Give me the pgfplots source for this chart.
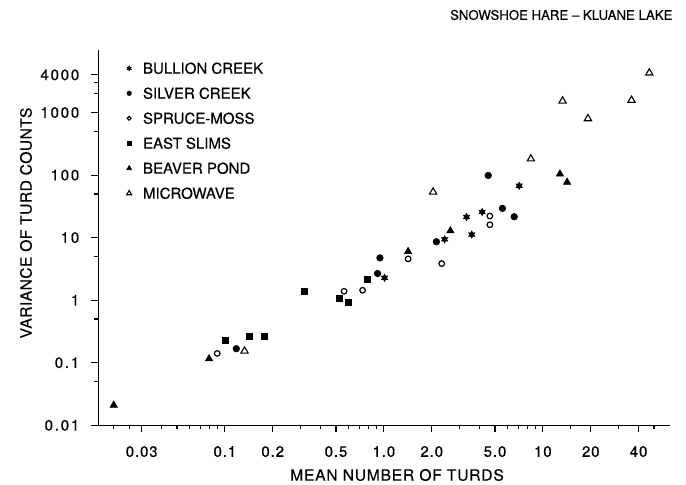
\documentclass[border=0pt]{standalone}
\usepackage{fontspec}
\setmainfont{TeX Gyre Heros}[FakeBold=0.4]
\usepackage{pgfplots}
\pgfplotsset{compat=1.18}
\usetikzlibrary{plotmarks}

\pgfdeclareplotmark{hexstar}{%
  \pgfpathmoveto{\pgfpointpolar{90}{\pgfplotmarksize}}%
  \pgfpathlineto{\pgfpointpolar{120}{0.55\pgfplotmarksize}}%
  \pgfpathlineto{\pgfpointpolar{150}{\pgfplotmarksize}}%
  \pgfpathlineto{\pgfpointpolar{180}{0.55\pgfplotmarksize}}%
  \pgfpathlineto{\pgfpointpolar{210}{\pgfplotmarksize}}%
  \pgfpathlineto{\pgfpointpolar{240}{0.55\pgfplotmarksize}}%
  \pgfpathlineto{\pgfpointpolar{270}{\pgfplotmarksize}}%
  \pgfpathlineto{\pgfpointpolar{300}{0.55\pgfplotmarksize}}%
  \pgfpathlineto{\pgfpointpolar{330}{\pgfplotmarksize}}%
  \pgfpathlineto{\pgfpointpolar{0}{0.55\pgfplotmarksize}}%
  \pgfpathlineto{\pgfpointpolar{30}{\pgfplotmarksize}}%
  \pgfpathlineto{\pgfpointpolar{60}{0.55\pgfplotmarksize}}%
  \pgfpathclose\pgfusepathqfillstroke}

\newcommand{\lblfont}{\fontsize{7.5}{9}\selectfont}
\newcommand{\xtfont}{\fontsize{7.5}{9}\selectfont\addfontfeatures{LetterSpace=6}}
\newcommand{\ytfont}{\fontsize{7.5}{9}\selectfont\addfontfeatures{LetterSpace=12}}
\newcommand{\xlfont}{\fontsize{7.8}{9}\selectfont\addfontfeatures{LetterSpace=5}}
\newcommand{\ylfont}{\fontsize{7.8}{9}\selectfont\addfontfeatures{LetterSpace=3}}
\newcommand{\ttlfont}{\fontsize{6.6}{8}\selectfont}

\begin{document}
\begin{tikzpicture}
\path[use as bounding box] (-49.15pt,-29.35pt) rectangle (293.85pt,212.65pt);
\begin{axis}[
  at={(0,0)}, anchor=south west,
  scale only axis, width=285.85pt, height=187.65pt,
  xmode=log, ymode=log,
  xmin=0.016, xmax=63, ymin=0.01, ymax=10000,
  axis lines*=left,
  axis line style={line width=0.6pt},
  tick align=outside,
  major tick length=3.5pt, minor tick length=2pt,
  every tick/.style={black, line width=0.6pt},
  xtick={0.03,0.1,0.2,0.5,1,2,5,10,20,40},
  xticklabels={0.03,0.1,0.2,0.5,1.0,2.0,5.0,10,20,40},
  minor xtick={0.02,0.025,0.04,0.05,0.06,0.07,0.08,0.09,0.3,0.4,0.6,0.7,0.8,0.9,3,4,6,7,8,9,15,30,50},
  ytick={0.01,0.1,1,10,100,1000,4000},
  yticklabels={0.01,0.1,1,10,100,1000,4000},
  minor ytick={0.05,0.5,5,50,500,2000,3000},
  /pgf/number format/assume math mode=true,
  xticklabel style={font=\xtfont, yshift=-3.4pt},
  yticklabel style={font=\ytfont, xshift=-2.5pt},
  xlabel={MEAN NUMBER OF TURDS},
  xlabel style={at={(axis description cs:0.5225,-0.1324)}, anchor=center, font=\xlfont},
  ylabel={VARIANCE OF TURD COUNTS},
  ylabel style={at={(axis description cs:-0.1265,0.539)}, anchor=center, font=\ylfont},
  every axis title shift=0pt,
  title={SNOWSHOE HARE -- KLUANE LAKE},
  title style={at={(axis description cs:1.005,1.0933)}, anchor=east, font=\ttlfont, inner sep=0pt},
  legend image code/.code={\draw[#1,/tikz/every mark/.append style={scale=0.68}] plot coordinates {(0pt,0pt)};},
  legend style={at={(axis description cs:0.0497,0.9656)}, anchor=north west,
    draw=none, fill=none, inner sep=0pt, outer sep=0pt, font=\lblfont,
    row sep=7.1pt,
    nodes={inner sep=0pt, text height=5.4pt, text depth=0pt},
    /tikz/every odd column/.append style={column sep=5.7pt}},
  legend cell align=left,
]
\addplot[only marks, black, mark=hexstar, mark size=1.8pt, mark options={fill=black, line width=0.3pt}]
  coordinates {(1.01,2.28) (2.41,9.4) (3.31,21.4) (3.57,11.2) (4.15,25.7) (7.1,67.5)};
\addlegendentry{BULLION CREEK}
\addplot[only marks, black, mark=*, mark size=1.65pt, mark options={fill=black, line width=0.3pt}]
  coordinates {(0.118,0.168) (0.913,2.67) (0.944,4.75) (2.14,8.6) (4.53,98.6) (5.57,29.4) (6.6,21.6)};
\addlegendentry{SILVER CREEK}
\addplot[only marks, black, mark=o, mark size=1.4pt, mark options={line width=0.6pt}]
  coordinates {(0.0895,0.141) (0.562,1.39) (0.735,1.44) (1.42,4.58) (2.31,3.85) (4.64,22.2) (4.64,16.1)};
\addlegendentry{SPRUCE-MOSS}
\addplot[only marks, black, mark=square*, mark size=1.5pt, mark options={fill=black, line width=0.3pt}]
  coordinates {(0.1,0.230) (0.1435,0.261) (0.176,0.261) (0.318,1.39) (0.523,1.06) (0.597,0.94) (0.785,2.14)};
\addlegendentry{EAST SLIMS}
\addplot[only marks, black, mark=triangle*, mark size=2.1pt, mark options={fill=black, line width=0.3pt}]
  coordinates {(0.020,0.021) (0.0796,0.116) (1.42,6.0) (2.62,12.9) (12.8,104) (14.2,77)};
\addlegendentry{BEAVER POND}
\addplot[only marks, black, mark=triangle, mark size=2.1pt, mark options={line width=0.55pt}]
  coordinates {(0.133,0.154) (2.04,53.6) (8.4,182) (13.3,1531) (19.2,800) (36.1,1570) (46.7,4300)};
\addlegendentry{MICROWAVE}
\end{axis}
\end{tikzpicture}
\end{document}
